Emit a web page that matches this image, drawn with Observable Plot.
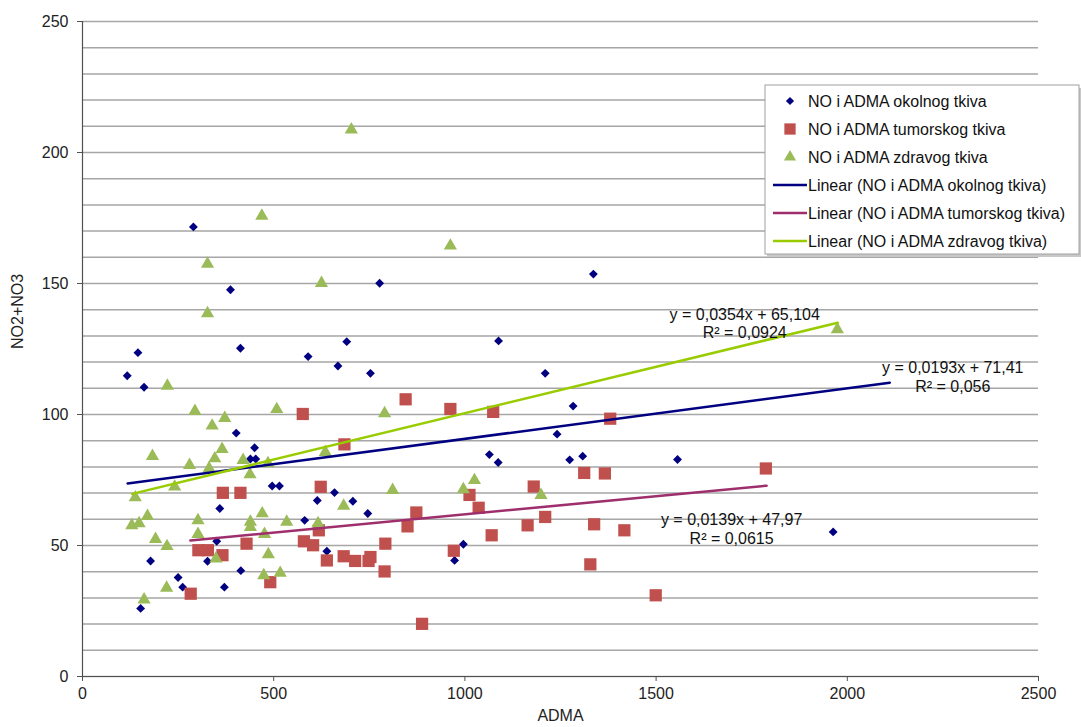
<!DOCTYPE html>
<html><head><meta charset="utf-8">
<script src="https://cdn.jsdelivr.net/npm/d3@7"></script>
<script src="https://cdn.jsdelivr.net/npm/@observablehq/plot@0.6"></script>
<style>body{margin:0;background:#fff;}#chart{width:1081px;height:727px;}</style>
</head><body><div id="chart"></div>
<script>
// ---- data ----
const seriesNames = ["NO i ADMA okolnog tkiva", "NO i ADMA tumorskog tkiva", "NO i ADMA zdravog tkiva"];
const trendNames = ["Linear (NO i ADMA okolnog tkiva)", "Linear (NO i ADMA tumorskog tkiva)", "Linear (NO i ADMA zdravog tkiva)"];

const okolnogX = [117,145,161,290,387,413,590,668,691,402,450,439,453,496,515,359,351,178,327,250,262,371,414,152,581,639,614,659,707,753,1088,1210,1283,1241,1064,1087,1274,1308,746,996,973,777,1336,1556,1963];
const okolnogY = [114.8,123.6,110.4,171.6,147.6,125.3,122.1,118.5,127.8,92.9,87.3,83,83,72.7,72.7,64.1,51.6,44.1,44,37.8,34.1,34.1,40.4,26,59.6,47.8,67.2,70.2,66.9,115.7,128.1,115.7,103.2,92.5,84.7,81.7,82.7,84.1,62.2,50.5,44.3,150.1,153.6,82.8,55.2];

const tumorskogX = [576,685,623,367,413,303,328,366,429,283,491,579,603,618,639,683,713,748,753,845,962,1074,1380,1312,1366,1180,1012,1036,873,850,1164,1210,1338,1417,1070,971,792,790,1328,888,1787,1499];
const tumorskogY = [100.2,88.6,72.4,70.1,70.1,48.2,48.2,46.3,50.7,31.6,36,51.6,50.1,55.8,44.3,45.9,44.1,44.1,45.6,105.8,102.1,101,98.4,77.7,77.5,72.5,69.3,64.4,62.6,57.3,57.7,60.9,58.1,55.8,53.9,48,50.7,40.1,42.8,20.1,79.4,31];

const zdravogX = [703,469,327,625,327,962,1974,222,294,339,372,183,280,331,346,365,420,438,485,508,241,138,129,148,170,191,221,161,220,302,302,439,439,470,476,486,349,474,517,534,616,635,683,790,811,996,1025,1199];
const zdravogY = [208.7,175.8,157.5,150.1,138.6,164.4,132.5,110.9,101.3,95.7,98.6,84.1,80.7,79.4,83.2,86.8,82.6,77.1,81.3,102,72.4,68.3,57.7,58.4,61.2,52.4,49.7,29.3,33.8,59.6,54.3,59,57,62.2,54.3,46.6,45,38.6,39.5,59,58.4,85.6,65.1,100.4,71.1,71.4,74.9,69.2];

// trend lines (from the chart's equations)
const trendSlope = [0.0193, 0.0139, 0.0354];
const trendIntercept = [71.41, 47.97, 65.104];
const trendFrom = [118, 282, 130];
const trendTo = [2111, 1789, 1975];
const eqLabels = ["y = 0,0193x + 71,41", "y = 0,0139x + 47,97", "y = 0,0354x + 65,104"];
const r2Labels = ["R\u00b2 = 0,056", "R\u00b2 = 0,0615", "R\u00b2 = 0,0924"];

const xTicks = [0, 500, 1000, 1500, 2000, 2500];
const yTicks = [0, 50, 100, 150, 200, 250];
const yGrid = d3.range(0, 251, 10);

// ---- styles ----
const dotColors = ["#000080", "#C0504D", "#9BBB59"];
const dotSymbols = ["diamond2", "square", "triangle"];
const dotR = [4, 6.9, 4.9];
const lineColors = ["#000080", "#9E2F6C", "#99CC00"];
const labelOffsets = [[63, -15, 4], [-35, 34, 53], [-93, -8, 10]];

const xs = [okolnogX, tumorskogX, zdravogX];
const ys = [okolnogY, tumorskogY, zdravogY];

const marks = [
  Plot.ruleY(yGrid, {stroke: "#a6a6a6", strokeWidth: 1.5}),
  Plot.ruleX([0], {stroke: "#505050", strokeWidth: 1.2}),
  Plot.ruleY([0], {stroke: "#505050", strokeWidth: 1.2}),
  Plot.axisY({ticks: yTicks, tickSize: 5, tickPadding: 9, tickFormat: d => String(d), label: null, stroke: "#505050"}),
  Plot.axisX({ticks: xTicks, tickSize: 5, tickPadding: 6, tickFormat: d => String(d), label: null, stroke: "#505050"}),
];

for (let i = 0; i < 3; i++) {
  const pts = xs[i].map((x, j) => ({x, y: ys[i][j]}));
  marks.push(Plot.dot(pts, {x: "x", y: "y", symbol: () => dotSymbols[i], r: dotR[i], fill: dotColors[i], stroke: "none"}));
}
for (let i = 0; i < 3; i++) {
  const seg = [trendFrom[i], trendTo[i]].map(x => ({x, y: trendSlope[i] * x + trendIntercept[i]}));
  marks.push(Plot.line(seg, {x: "x", y: "y", stroke: lineColors[i], strokeWidth: 2.5}));
  const end = [seg[1]];
  const [dx, dy1, dy2] = labelOffsets[i];
  marks.push(Plot.text(end, {x: "x", y: "y", text: () => eqLabels[i], dx, dy: dy1, fill: "#111", fontSize: 16}));
  marks.push(Plot.text(end, {x: "x", y: "y", text: () => r2Labels[i], dx, dy: dy2, fill: "#111", fontSize: 16}));
}
marks.push(Plot.text(["ADMA"], {frameAnchor: "bottom", dy: 44, fill: "#222", fontSize: 16}));
marks.push(Plot.text(["NO2+NO3"], {frameAnchor: "left", dx: -65, rotate: -90, fill: "#222", fontSize: 16}));

const svg = Plot.plot({
  width: 1081,
  height: 727,
  marginLeft: 82,
  marginRight: 43,
  marginTop: 21,
  marginBottom: 51,
  x: {domain: [0, 2500]},
  y: {domain: [0, 250]},
  symbol: {type: "identity"},
  style: {fontFamily: "'Liberation Sans', Arial, sans-serif", fontSize: "16px", color: "#222", background: "#fff"},
  marks
});
document.getElementById("chart").appendChild(svg);

// ---- legend drawn into the same svg ----
const lg = d3.select(svg).append("g")
  .attr("font-family", "'Liberation Sans', Arial, sans-serif")
  .attr("font-size", 16).attr("fill", "#111")
  .attr("text-anchor", "start");
lg.append("rect").attr("x", 767).attr("y", 88).attr("width", 314).attr("height", 169).attr("fill", "#c8c8c8");
lg.append("rect").attr("x", 765).attr("y", 85).attr("width", 314).attr("height", 169).attr("fill", "#fff").attr("stroke", "#a0a0a0").attr("stroke-width", 1);
const rowY = i => 101 + i * 28;
const d3Sym = {diamond2: d3.symbolDiamond2, square: d3.symbolSquare, triangle: d3.symbolTriangle};
for (let i = 0; i < 3; i++) {
  lg.append("path")
    .attr("d", d3.symbol(d3Sym[dotSymbols[i]], dotR[i] * dotR[i] * Math.PI * 0.85)())
    .attr("transform", `translate(790,${rowY(i)})`)
    .attr("fill", dotColors[i]);
  lg.append("text").attr("x", 808).attr("y", rowY(i)).attr("dy", "0.35em").attr("text-anchor", "start").text(seriesNames[i]);
}
for (let i = 0; i < 3; i++) {
  const y = rowY(i + 3);
  lg.append("line").attr("x1", 773).attr("x2", 807).attr("y1", y).attr("y2", y).attr("stroke", lineColors[i]).attr("stroke-width", 2.5);
  lg.append("text").attr("x", 808).attr("y", y).attr("dy", "0.35em").attr("text-anchor", "start").text(trendNames[i]);
}
</script>
</body></html>
